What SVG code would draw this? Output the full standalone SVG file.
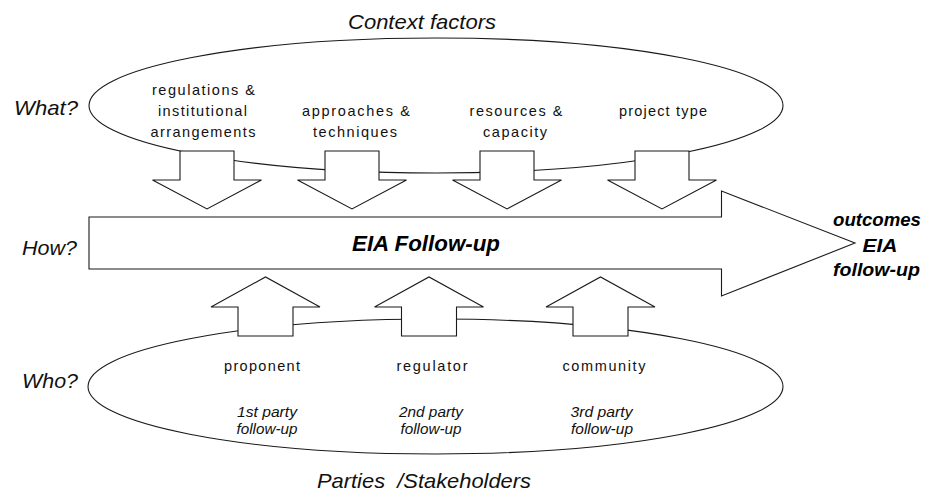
<svg xmlns="http://www.w3.org/2000/svg" width="929" height="497" viewBox="0 0 929 497">
<style>
.bg{fill:#ffffff}
.shape{fill:#ffffff;stroke:#1a1a1a;stroke-width:1.1}
.ell{fill:none;stroke:#1a1a1a;stroke-width:1.1}
.lbl{font-family:"Liberation Sans",Arial,sans-serif;font-size:14.5px;fill:#111;text-anchor:middle}
.it{font-family:"Liberation Sans",Arial,sans-serif;font-style:italic;font-size:14px;fill:#111;text-anchor:middle}
.big{font-family:"Liberation Sans",Arial,sans-serif;font-style:italic;font-size:21px;fill:#111}
.bold{font-family:"Liberation Sans",Arial,sans-serif;font-style:italic;font-weight:bold;fill:#000;text-anchor:middle}
</style>
<rect class="bg" x="0" y="0" width="929" height="497"/>

<g id="context-factors">
  <ellipse class="ell" cx="436" cy="105.5" rx="347" ry="67.5"/>
  <text class="big" x="348" y="29" textLength="148" lengthAdjust="spacingAndGlyphs">Context factors</text>
</g>

<g id="parties">
  <ellipse class="ell" cx="435.5" cy="386.5" rx="347.5" ry="67.5"/>
  <text class="big" x="317" y="488" style="white-space:pre" textLength="214" lengthAdjust="spacingAndGlyphs">Parties  /Stakeholders</text>
</g>

<g id="connectors">
  <polygon class="shape" points="180,151 234,151 234,180 261.5,180 207,209 152.5,180 180,180"/>
  <polygon class="shape" points="325,151 379,151 379,180 406.5,180 352,209 297.5,180 325,180"/>
  <polygon class="shape" points="480,151 534,151 534,180 561.5,180 507,209 452.5,180 480,180"/>
  <polygon class="shape" points="635,151 689,151 689,180 716.5,180 662,209 607.5,180 635,180"/>
  <polygon class="shape" points="238,336 293,336 293,307 320,307 265.5,277 211,307 238,307"/>
  <polygon class="shape" points="401.5,336 456.5,336 456.5,307 483.5,307 429,277 374.5,307 401.5,307"/>
  <polygon class="shape" points="573,336 628,336 628,307 655,307 600.5,277 546,307 573,307"/>
</g>

<g id="eia-follow-up">
  <polygon class="shape" points="89,217 721.5,217 721.5,191 855,243 721.5,296 721.5,269 89,269"/>
  <text class="bold" x="426" y="251" font-size="22" textLength="148" lengthAdjust="spacingAndGlyphs">EIA Follow-up</text>
</g>

<g id="outcomes">
  <text class="bold" x="877" y="226" font-size="18" textLength="88" lengthAdjust="spacingAndGlyphs">outcomes</text>
  <text class="bold" x="880" y="252" font-size="18" textLength="35" lengthAdjust="spacingAndGlyphs">EIA</text>
  <text class="bold" x="876.5" y="276" font-size="18" textLength="87" lengthAdjust="spacingAndGlyphs">follow-up</text>
</g>

<g id="row-labels">
  <text class="big" x="14" y="115" textLength="64" lengthAdjust="spacingAndGlyphs">What?</text>
  <text class="big" x="22" y="255" textLength="55" lengthAdjust="spacingAndGlyphs">How?</text>
  <text class="big" x="22" y="388" textLength="56" lengthAdjust="spacingAndGlyphs">Who?</text>
</g>

<g id="factor-regulations">
  <text class="lbl" x="203.5" y="95" textLength="103">regulations &amp;</text>
  <text class="lbl" x="202.5" y="116" textLength="89">institutional</text>
  <text class="lbl" x="203" y="137" textLength="105">arrangements</text>
</g>
<g id="factor-approaches">
  <text class="lbl" x="356" y="116" textLength="108">approaches &amp;</text>
  <text class="lbl" x="355" y="137" textLength="84">techniques</text>
</g>
<g id="factor-resources">
  <text class="lbl" x="516" y="116" textLength="93">resources &amp;</text>
  <text class="lbl" x="515" y="137" textLength="64">capacity</text>
</g>
<g id="factor-project">
  <text class="lbl" x="663" y="116" textLength="88">project type</text>
</g>

<g id="party-proponent">
  <text class="lbl" x="262" y="371" textLength="76">proponent</text>
  <text class="it" x="267" y="417" textLength="60" lengthAdjust="spacingAndGlyphs">1st party</text>
  <text class="it" x="267" y="434" textLength="61" lengthAdjust="spacingAndGlyphs">follow-up</text>
</g>
<g id="party-regulator">
  <text class="lbl" x="432" y="371" textLength="71">regulator</text>
  <text class="it" x="431" y="417" textLength="64" lengthAdjust="spacingAndGlyphs">2nd party</text>
  <text class="it" x="431" y="434" textLength="61" lengthAdjust="spacingAndGlyphs">follow-up</text>
</g>
<g id="party-community">
  <text class="lbl" x="604" y="371" textLength="83">community</text>
  <text class="it" x="601.5" y="417" textLength="62" lengthAdjust="spacingAndGlyphs">3rd party</text>
  <text class="it" x="602" y="434" textLength="62" lengthAdjust="spacingAndGlyphs">follow-up</text>
</g>
</svg>
